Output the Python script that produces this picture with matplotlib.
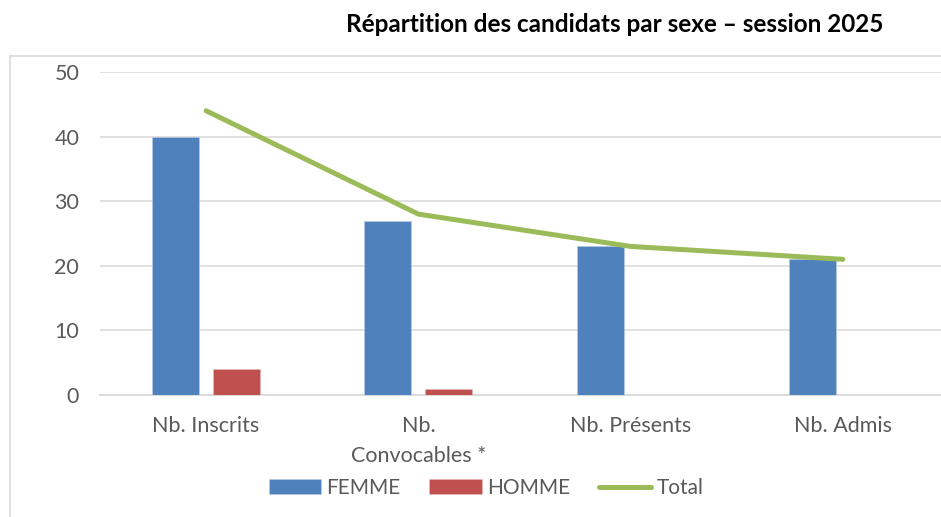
import numpy as np
import matplotlib.pyplot as plt
from matplotlib.lines import Line2D

# Data
categories = ['Nb. Inscrits', 'Nb.\nConvocables *', 'Nb. Présents', 'Nb. Admis']
femme = [40, 27, 23, 21]
homme = [4, 1, 0, 0]
total = [44, 28, 23, 21]

plt.rcParams['font.family'] = ['Lato', 'DejaVu Sans']

W, H = 941, 517
fig = plt.figure(figsize=(W / 100, H / 100), dpi=100)

# plot area in pixels (extends past the right edge, as in the cropped original)
left, right, top, bottom = 100, 949, 72, 395
ax = fig.add_axes([left / W, (H - bottom) / H, (right - left) / W, (bottom - top) / H])

x = np.arange(len(categories))
bw = 0.222
off = 0.144
ax.bar(x - off, femme, bw, color='#4F81BD', edgecolor='#B9CDE5', linewidth=0.4,
       label='FEMME', zorder=3)
ax.bar(x + off, homme, bw, color='#C0504D', edgecolor='#E6B9B8', linewidth=0.4,
       label='HOMME', zorder=3)
ax.plot(x, total, color='#9BBB59', linewidth=3.6, solid_capstyle='round',
        label='Total', zorder=4)

ax.set_xlim(-0.5, len(categories) - 0.5)
ax.set_ylim(0, 50)
ax.set_yticks(range(0, 51, 10))
ax.set_xticks(x)
ax.set_xticklabels(categories, linespacing=1.65)

ax.grid(axis='y', color='#D9D9D9', linewidth=1.1, zorder=0)
for s in ['top', 'right', 'left']:
    ax.spines[s].set_visible(False)
ax.spines['bottom'].set_color('#D9D9D9')
ax.spines['bottom'].set_linewidth(1.3)
ax.tick_params(axis='both', length=0, labelsize=15.5, labelcolor='#595959')
ax.tick_params(axis='y', pad=15)
ax.tick_params(axis='x', pad=15)

fig.text(615 / W, 1 - 25 / H, 'Répartition des candidats par sexe – session 2025',
         ha='center', va='center', fontsize=17.5, fontweight='bold', color='black')

# chart area border (only left and top visible in the crop)
fig.add_artist(Line2D([10 / W, 10 / W], [0, 1 - 56 / H], color='#D9D9D9', linewidth=1.2))
fig.add_artist(Line2D([10 / W, 1], [1 - 56 / H, 1 - 56 / H], color='#D9D9D9', linewidth=1.2))

handles, labels = ax.get_legend_handles_labels()
order = [1, 2, 0]
fig.legend([handles[i] for i in order], [labels[i] for i in order],
           loc='center', bbox_to_anchor=(486 / W, 1 - 488 / H), ncol=3,
           frameon=False, fontsize=15, labelcolor='#595959',
           handlelength=2.5, handleheight=0.7, handletextpad=0.25, columnspacing=1.4)

fig.savefig('out.png', dpi=100)
